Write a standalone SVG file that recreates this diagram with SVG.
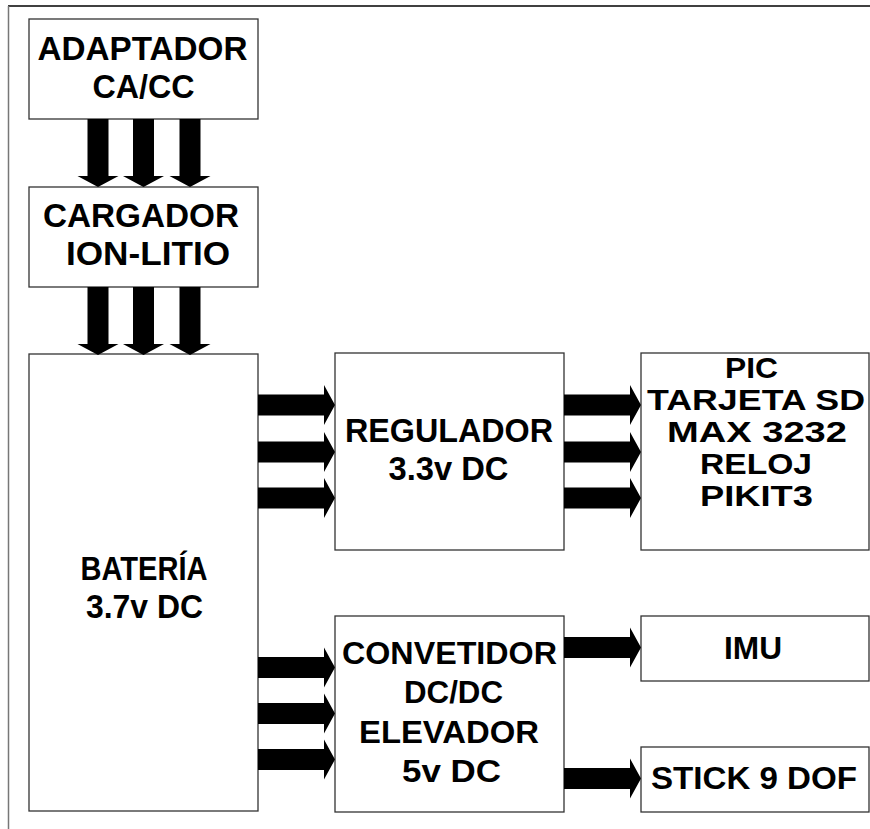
<svg xmlns="http://www.w3.org/2000/svg" width="870" height="829" viewBox="0 0 870 829">
<style>
.box{fill:#fff;stroke:#333;stroke-width:1.3}
.t{font-family:"Liberation Sans",Arial,sans-serif;font-weight:bold;font-size:33px;fill:#000;text-anchor:middle}
.p{font-size:30px}
.c{font-size:31px}
.s{font-size:31px}
.a{fill:#000}
</style>
<defs>
<path id="av" d="M-10.5,0 V57 H-20.5 L0,68 L20.5,57 H10.5 V0 Z"/>
</defs>
<rect width="870" height="829" fill="#fff"/>
<line x1="8" y1="6" x2="870" y2="6" stroke="#000" stroke-width="1.5"/>
<line x1="8.5" y1="6" x2="8.5" y2="829" stroke="#777" stroke-width="1.5"/>
<g id="adaptador"><rect class="box" x="29" y="19" width="229" height="100"/><text class="t" x="142.5" y="60" textLength="210" lengthAdjust="spacingAndGlyphs">ADAPTADOR</text><text class="t" x="143.5" y="98" textLength="102" lengthAdjust="spacingAndGlyphs">CA/CC</text></g>
<g id="cargador"><rect class="box" x="29" y="187" width="229" height="100"/><text class="t" x="141" y="227" textLength="196" lengthAdjust="spacingAndGlyphs">CARGADOR</text><text class="t" x="148" y="265" textLength="164" lengthAdjust="spacingAndGlyphs">ION-LITIO</text></g>
<g id="bateria"><rect class="box" x="29" y="354" width="229" height="457"/><text class="t" x="144" y="580" textLength="127" lengthAdjust="spacingAndGlyphs">BATERÍA</text><text class="t" x="144.5" y="618" textLength="117" lengthAdjust="spacingAndGlyphs">3.7v DC</text></g>
<g id="regulador"><rect class="box" x="335" y="353" width="229" height="197"/><text class="t" x="449" y="442" textLength="208" lengthAdjust="spacingAndGlyphs">REGULADOR</text><text class="t" x="448.5" y="480" textLength="120" lengthAdjust="spacingAndGlyphs">3.3v DC</text></g>
<g id="pic"><rect class="box" x="641" y="353" width="228" height="197"/><text class="t p" x="751.5" y="378" textLength="53" lengthAdjust="spacingAndGlyphs">PIC</text><text class="t p" x="756" y="410" textLength="218" lengthAdjust="spacingAndGlyphs">TARJETA SD</text><text class="t p" x="757" y="442" textLength="180" lengthAdjust="spacingAndGlyphs">MAX 3232</text><text class="t p" x="756" y="474" textLength="112" lengthAdjust="spacingAndGlyphs">RELOJ</text><text class="t p" x="756.5" y="506" textLength="113" lengthAdjust="spacingAndGlyphs">PIKIT3</text></g>
<g id="convetidor"><rect class="box" x="335" y="616" width="229" height="196"/><text class="t c" x="449.5" y="664" textLength="215" lengthAdjust="spacingAndGlyphs">CONVETIDOR</text><text class="t c" x="453.5" y="703" textLength="99" lengthAdjust="spacingAndGlyphs">DC/DC</text><text class="t c" x="449" y="743" textLength="180" lengthAdjust="spacingAndGlyphs">ELEVADOR</text><text class="t c" x="451.5" y="782" textLength="99" lengthAdjust="spacingAndGlyphs">5v DC</text></g>
<g id="imu"><rect class="box" x="641" y="616" width="228" height="65"/><text class="t s" x="753" y="659" textLength="58" lengthAdjust="spacingAndGlyphs">IMU</text></g>
<g id="stick"><rect class="box" x="641" y="747" width="228" height="65"/><text class="t s" x="754" y="789" textLength="206" lengthAdjust="spacingAndGlyphs">STICK 9 DOF</text></g>
<g id="connectors" class="a">
<use href="#av" x="98" y="119"/><use href="#av" x="143.5" y="119"/><use href="#av" x="190" y="119"/>
<use href="#av" x="98" y="287"/><use href="#av" x="143.5" y="287"/><use href="#av" x="190" y="287"/>
<path d="M0,-10.5 H66 V-20 L77,0 L66,20 V10.5 H0 Z" transform="translate(258,405)"/>
<path d="M0,-10.5 H66 V-20 L77,0 L66,20 V10.5 H0 Z" transform="translate(258,452)"/>
<path d="M0,-10.5 H66 V-20 L77,0 L66,20 V10.5 H0 Z" transform="translate(258,498)"/>
<path d="M0,-10.5 H66 V-20 L77,0 L66,20 V10.5 H0 Z" transform="translate(564,405)"/>
<path d="M0,-10.5 H66 V-20 L77,0 L66,20 V10.5 H0 Z" transform="translate(564,452)"/>
<path d="M0,-10.5 H66 V-20 L77,0 L66,20 V10.5 H0 Z" transform="translate(564,498)"/>
<path d="M0,-10.5 H66 V-20 L77,0 L66,20 V10.5 H0 Z" transform="translate(258,667.5)"/>
<path d="M0,-10.5 H66 V-20 L77,0 L66,20 V10.5 H0 Z" transform="translate(258,713.5)"/>
<path d="M0,-10.5 H66 V-20 L77,0 L66,20 V10.5 H0 Z" transform="translate(258,759.5)"/>
<path d="M0,-10.5 H66 V-20 L77,0 L66,20 V10.5 H0 Z" transform="translate(564,647.5)"/>
<path d="M0,-10.5 H66 V-20 L77,0 L66,20 V10.5 H0 Z" transform="translate(564,778.5)"/>
</g>
</svg>
